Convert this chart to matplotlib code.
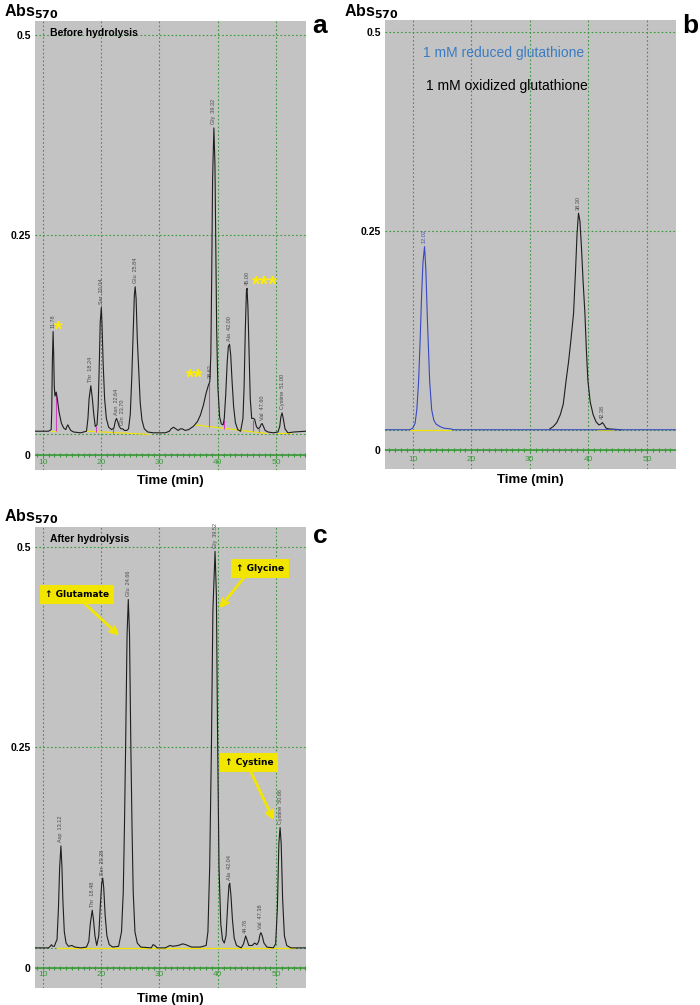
import numpy as np
import matplotlib
matplotlib.use("Agg")
import matplotlib.pyplot as plt

plt.rcParams['font.family'] = ['Liberation Sans', 'DejaVu Sans']

# ---- data (time in min, absorbance at 570 nm) ----
# a: before hydrolysis
a_time = [8.7, 10.0, 11.0, 11.45, 11.55, 11.65, 11.78, 11.88, 11.98, 12.1, 12.3, 12.5, 12.8, 13.2,
          13.6, 13.95, 14.15, 14.3, 14.5, 14.8, 15.3, 16.5, 17.5, 17.75, 17.95, 18.24, 18.5, 18.75,
          19.0, 19.3, 19.5, 19.7, 19.85, 20.04, 20.15, 20.35, 20.6, 20.9, 21.3, 21.8, 22.2, 22.45,
          22.64, 22.85, 23.1, 23.4, 23.7, 24.0, 24.4, 24.7, 25.0, 25.25, 25.5, 25.7, 25.84, 26.0,
          26.2, 26.45, 26.7, 27.0, 27.4, 28.0, 29.0, 30.0, 31.0, 31.7, 32.0, 32.4, 32.8, 33.2,
          33.6, 33.9, 34.4, 35.0, 35.8, 36.5, 37.0, 37.5, 38.0, 38.4, 38.62, 38.8, 38.95, 39.1,
          39.32, 39.5, 39.65, 39.8, 40.0, 40.3, 40.6, 40.9, 41.1, 41.35, 41.6, 41.8, 42.0, 42.2,
          42.45, 42.7, 43.0, 43.4, 43.9, 44.3, 44.5, 44.7, 44.9, 45.0, 45.15, 45.35, 45.55, 45.8,
          46.1, 46.3, 46.6, 46.9, 47.2, 47.45, 47.6, 47.8, 48.1, 48.6, 49.5, 50.3, 50.6, 50.8,
          51.0, 51.2, 51.5, 52.0, 53.0, 55.1]
a_abs = [0.004, 0.004, 0.004, 0.006, 0.03, 0.09, 0.129, 0.10, 0.06, 0.048, 0.053, 0.045, 0.028, 0.014,
         0.008, 0.006, 0.010, 0.012, 0.009, 0.005, 0.003, 0.002, 0.004, 0.02, 0.045, 0.061, 0.045, 0.025,
         0.010, 0.012, 0.035, 0.09, 0.14, 0.159, 0.14, 0.09, 0.045, 0.02, 0.009, 0.006, 0.008, 0.017,
         0.020, 0.016, 0.010, 0.007, 0.007, 0.005, 0.005, 0.007, 0.025, 0.07, 0.13, 0.175, 0.185, 0.17,
         0.12, 0.08, 0.04, 0.018, 0.007, 0.003, 0.002, 0.002, 0.002, 0.004, 0.007, 0.009, 0.007, 0.005,
         0.007, 0.007, 0.005, 0.006, 0.010, 0.016, 0.024, 0.036, 0.052, 0.062, 0.066, 0.10, 0.20, 0.32,
         0.384, 0.34, 0.24, 0.13, 0.06, 0.022, 0.013, 0.012, 0.02, 0.05, 0.09, 0.11, 0.113, 0.10,
         0.065, 0.035, 0.015, 0.006, 0.004, 0.02, 0.06, 0.13, 0.18, 0.183, 0.16, 0.10, 0.045, 0.02,
         0.020, 0.019, 0.010, 0.007, 0.009, 0.013, 0.0135, 0.010, 0.005, 0.003, 0.002, 0.003, 0.010, 0.022,
         0.027, 0.020, 0.007, 0.002, 0.003, 0.004]
a_peak_t = [11.78, 18.24, 20.04, 22.64, 23.70, 25.84, 38.62, 39.32, 42.00, 45.00, 47.60, 51.00]
a_peak_y = [0.129, 0.061, 0.159, 0.020, 0.007, 0.185, 0.066, 0.384, 0.113, 0.183, 0.0135, 0.027]
a_peak_lab = ['11.78', 'Thr  18.24', 'Ser  20.04', 'Asn  22.64', 'Gln  23.70', 'Glu  25.84', '38.62',
              'Gly  39.32', 'Ala  42.00', '45.00', 'Val  47.60', 'Cystine  51.00']
a_base_t = [[11.4, 12.3], [17.6, 28.3], [36.0, 48.5], [50.3, 52.3]]
a_base_y = [[0.004, 0.004], [0.004, 0.000], [0.012, 0.001], [0.002, 0.002]]
a_drop_t = [12.3, 19.2, 22.0, 38.5, 41.1, 46.0, 47.1]
a_drop_lo = [0.004, 0.003, 0.002, 0.009, 0.007, 0.004, 0.003]
a_drop_hi = [0.053, 0.011, 0.008, 0.064, 0.018, 0.018, 0.008]
a_star_t = [12.67, 36.08, 48.05]
a_star_y = [0.131, 0.070, 0.187]
a_star_txt = ['*', '**', '***']

# b: glutathione standards
b_red_t = [5.3, 9.5, 10.0, 10.4, 10.7, 11.0, 11.25, 11.5, 11.75, 12.02, 12.25, 12.5, 12.7, 12.9,
           13.24, 13.6, 14.0, 14.66, 15.3, 16.5, 17.0, 55.0]
b_red_y = [0.0, 0.0, 0.002, 0.008, 0.025, 0.06, 0.108, 0.165, 0.21, 0.230, 0.2, 0.14, 0.1, 0.06,
           0.025, 0.012, 0.007, 0.004, 0.002, 0.001, 0.0, 0.0]
b_ox_t = [33.4, 34.0, 34.6, 35.2, 35.7, 36.2, 36.6, 37.0, 37.46, 37.8, 38.05, 38.3, 38.55, 38.8,
          39.1, 39.4, 39.65, 39.9, 40.3, 40.8, 41.3, 41.8, 42.1, 42.38, 42.6, 43.0, 43.5, 45.6]
b_ox_y = [0.001, 0.004, 0.009, 0.019, 0.032, 0.0625, 0.085, 0.112, 0.146, 0.2, 0.245, 0.272, 0.262,
          0.23, 0.185, 0.146, 0.1, 0.0625, 0.035, 0.019, 0.01, 0.006, 0.007, 0.009, 0.007, 0.002,
          0.001, 0.0]
b_peak_t = [12.02, 38.30, 42.38]
b_peak_y = [0.230, 0.272, 0.009]
b_peak_lab = ['12.02', '38.30', '42.38']

# c: after hydrolysis
c_time = [8.7, 11.0, 11.3, 11.5, 11.7, 12.0, 12.3, 12.45, 12.7, 12.9, 13.12, 13.3, 13.45, 13.7,
          14.0, 14.4, 15.0, 15.5, 16.5, 17.5, 17.9, 18.15, 18.48, 18.7, 18.95, 19.25, 19.6, 19.85,
          20.1, 20.28, 20.45, 20.7, 21.0, 21.4, 22.0, 23.0, 23.5, 23.8, 24.0, 24.2, 24.45, 24.66,
          24.87, 25.1, 25.3, 25.5, 25.8, 26.2, 26.8, 28.6, 28.9, 29.2, 29.6, 31.0, 31.8, 32.3,
          33.2, 34.0, 34.5, 35.5, 37.0, 38.0, 38.3, 38.6, 38.9, 39.15, 39.52, 39.75, 39.97, 40.2,
          40.5, 40.8, 41.1, 41.4, 41.7, 41.9, 42.04, 42.25, 42.5, 42.8, 43.2, 44.0, 44.4, 44.76,
          45.0, 45.3, 45.9, 46.3, 46.7, 47.0, 47.2, 47.38, 47.6, 47.9, 48.4, 49.5, 49.9, 50.2,
          50.45, 50.66, 50.85, 51.1, 51.4, 51.8, 52.5, 55.1]
c_abs = [0.0, 0.0, 0.002, 0.004, 0.002, 0.002, 0.008, 0.01, 0.05, 0.10, 0.127, 0.10, 0.06, 0.02,
         0.006, 0.002, 0.003, 0.001, 0.0, 0.001, 0.008, 0.03, 0.047, 0.035, 0.015, 0.003, 0.015, 0.05,
         0.08, 0.087, 0.075, 0.04, 0.015, 0.004, 0.001, 0.002, 0.02, 0.07, 0.15, 0.25, 0.39, 0.434,
         0.39, 0.25, 0.15, 0.07, 0.02, 0.006, 0.001, 0.0, 0.004, 0.003, 0.0, 0.0, 0.003, 0.002,
         0.003, 0.005, 0.004, 0.001, 0.001, 0.003, 0.02, 0.10, 0.25, 0.42, 0.494, 0.44, 0.25, 0.10,
         0.03, 0.01, 0.006, 0.015, 0.055, 0.078, 0.0805, 0.065, 0.035, 0.012, 0.003, 0.0, 0.005, 0.0148,
         0.01, 0.003, 0.003, 0.006, 0.004, 0.008, 0.016, 0.019, 0.015, 0.006, 0.001, 0.0, 0.005, 0.05,
         0.13, 0.150, 0.13, 0.06, 0.015, 0.003, 0.0, 0.0]
c_peak_t = [13.12, 18.48, 20.28, 24.66, 39.52, 42.04, 44.76, 47.38, 50.66]
c_peak_y = [0.127, 0.047, 0.087, 0.434, 0.494, 0.0805, 0.0148, 0.019, 0.150]
c_peak_lab = ['Asp  13.12', 'Thr  18.48', 'Ser  20.28', 'Glu  24.66', 'Gly  39.52', 'Ala  42.04',
              '44.76', 'Val  47.38', 'Cystine  50.66']
c_note_txt = ['Glutamate', 'Glycine', 'Cystine']
c_note_box = [(15.85, 0.440), (47.29, 0.473), (45.35, 0.231)]
c_note_tip = [(23.1, 0.389), (40.24, 0.423), (49.57, 0.159)]
c_note_rel = [(0.55, 0.0), (0.24, 0.0), (0.49, 0.0)]

# ---- style ----
BG = '#c3c3c3'
GREEN = '#3a9a3a'
YEL = '#f2e600'
LINE = '#1e1e1e'


def frame(ax, xlim, ylim, axis_y, lab_y):
    ax.set_facecolor(BG)
    for s in ax.spines.values():
        s.set_visible(False)
    ax.set_xlim(*xlim)
    ax.set_ylim(*ylim)
    ax.set_xticks([10, 20, 30, 40, 50])
    ax.set_xticklabels([])
    ax.tick_params(axis='x', length=0)
    ax.set_yticks([axis_y, 0.25, 0.5])
    ax.set_yticklabels(['0', '0.25', '0.5'], fontweight='bold', fontsize=7.5)
    ax.tick_params(axis='y', length=0, pad=3)
    ax.grid(True, color=GREEN, linestyle=(0, (1.5, 2)), linewidth=0.8)
    ax.axhline(0, color=GREEN, linestyle=(0, (1.5, 2)), linewidth=0.8, zorder=1)
    ax.axhline(axis_y, color=GREEN, linewidth=1.2, zorder=2)
    mins = np.arange(np.ceil(xlim[0]), xlim[1])
    ax.plot(mins, np.full(len(mins), axis_y), ls='none', marker='|', ms=3.5, mew=0.8, color=GREEN)
    for t in [10, 20, 30, 40, 50]:
        ax.text(t, lab_y, str(t), color=GREEN, fontsize=6, ha='center', va='center')
    ax.set_xlabel('Time (min)', fontweight='bold', fontsize=9.5, labelpad=0)


def peak_labels(ax, ts, ys, labs, color='#4a4a4a'):
    for t, y, s in zip(ts, ys, labs):
        ax.annotate(s, (t, y), xytext=(0, 2.5), textcoords='offset points', rotation=90,
                    ha='center', va='bottom', fontsize=4, color=color)


fig = plt.figure(figsize=(7, 10.05), dpi=100)

# panel a
ax_a = fig.add_axes([35 / 700, 1 - 470 / 1005, 271 / 700, 449 / 1005])
frame(ax_a, (8.68, 55.1), (-0.0446, 0.518), -0.026, -0.035)
for bt, by in zip(a_base_t, a_base_y):
    ax_a.plot(bt, by, color=YEL, lw=0.8, zorder=3)
ax_a.vlines(a_drop_t, a_drop_lo, a_drop_hi, color='#d040c0', lw=0.8, zorder=3)
ax_a.plot(a_time, a_abs, color=LINE, lw=0.8, zorder=4)
peak_labels(ax_a, a_peak_t, a_peak_y, a_peak_lab)
for t, y, s in zip(a_star_t, a_star_y, a_star_txt):
    ax_a.text(t, y, s, color='#ffec00', fontsize=16, fontweight='bold', ha='center', va='center')
ax_a.text(0.055, 0.985, 'Before hydrolysis', transform=ax_a.transAxes, fontsize=7.5,
          fontweight='bold', va='top')

# panel b
ax_b = fig.add_axes([385 / 700, 1 - 469.3 / 1005, 291 / 700, 449.3 / 1005])
frame(ax_b, (5.27, 54.95), (-0.0497, 0.5146), -0.026, -0.038)
ax_b.plot([9.5, 16.5], [0.0, 0.0], color=YEL, lw=0.9, zorder=3)
ax_b.plot([41.5, 44.0], [0.0, 0.0], color=YEL, lw=0.9, zorder=3)
ax_b.plot(b_ox_t, b_ox_y, color=LINE, lw=0.8, zorder=4)
ax_b.plot(b_red_t, b_red_y, color='#3848c0', lw=0.8, zorder=5)
peak_labels(ax_b, b_peak_t[:1], b_peak_y[:1], b_peak_lab[:1], color='#5050b0')
peak_labels(ax_b, b_peak_t[1:], b_peak_y[1:], b_peak_lab[1:])
ax_b.text(11.76, 0.473, '1 mM reduced glutathione', color='#3a7cc4', fontsize=10, va='center')
ax_b.text(12.2, 0.4316, '1 mM oxidized glutathione', color='black', fontsize=10, va='center')

# panel c
ax_c = fig.add_axes([35 / 700, 1 - 988 / 1005, 271 / 700, 460.7 / 1005])
frame(ax_c, (8.68, 55.1), (-0.050, 0.524), -0.0254, -0.0338)
ax_c.plot([12.5, 53.0], [0.0, 0.0], color=YEL, lw=0.9, zorder=3)
ax_c.plot(c_time, c_abs, color=LINE, lw=0.8, zorder=4)
peak_labels(ax_c, c_peak_t, c_peak_y, c_peak_lab)
for s, box, tip, rel in zip(c_note_txt, c_note_box, c_note_tip, c_note_rel):
    ax_c.annotate('\u2191 ' + s, xy=tip, xytext=box, ha='center', va='center',
                  fontsize=6.5, fontweight='bold', family=['DejaVu Sans'],
                  bbox=dict(boxstyle='square,pad=0.55', fc=YEL, ec='none'),
                  arrowprops=dict(arrowstyle='->', color=YEL, lw=2, mutation_scale=12,
                                  relpos=rel, shrinkA=0, shrinkB=0), zorder=6)
ax_c.text(0.055, 0.985, 'After hydrolysis', transform=ax_c.transAxes, fontsize=7.5,
          fontweight='bold', va='top')

# outer labels
for x, y in [(4, 16), (344, 16), (4, 521)]:
    fig.text(x / 700, 1 - y / 1005, r'Abs$_{\mathbf{570}}$', fontsize=11.5, fontweight='bold',
             va='baseline')
for x, y, s in [(320, 33, 'a'), (690, 33, 'b'), (320, 543, 'c')]:
    fig.text(x / 700, 1 - y / 1005, s, fontsize=19, fontweight='bold', ha='center', va='baseline')

fig.savefig('out.png', dpi=100)
